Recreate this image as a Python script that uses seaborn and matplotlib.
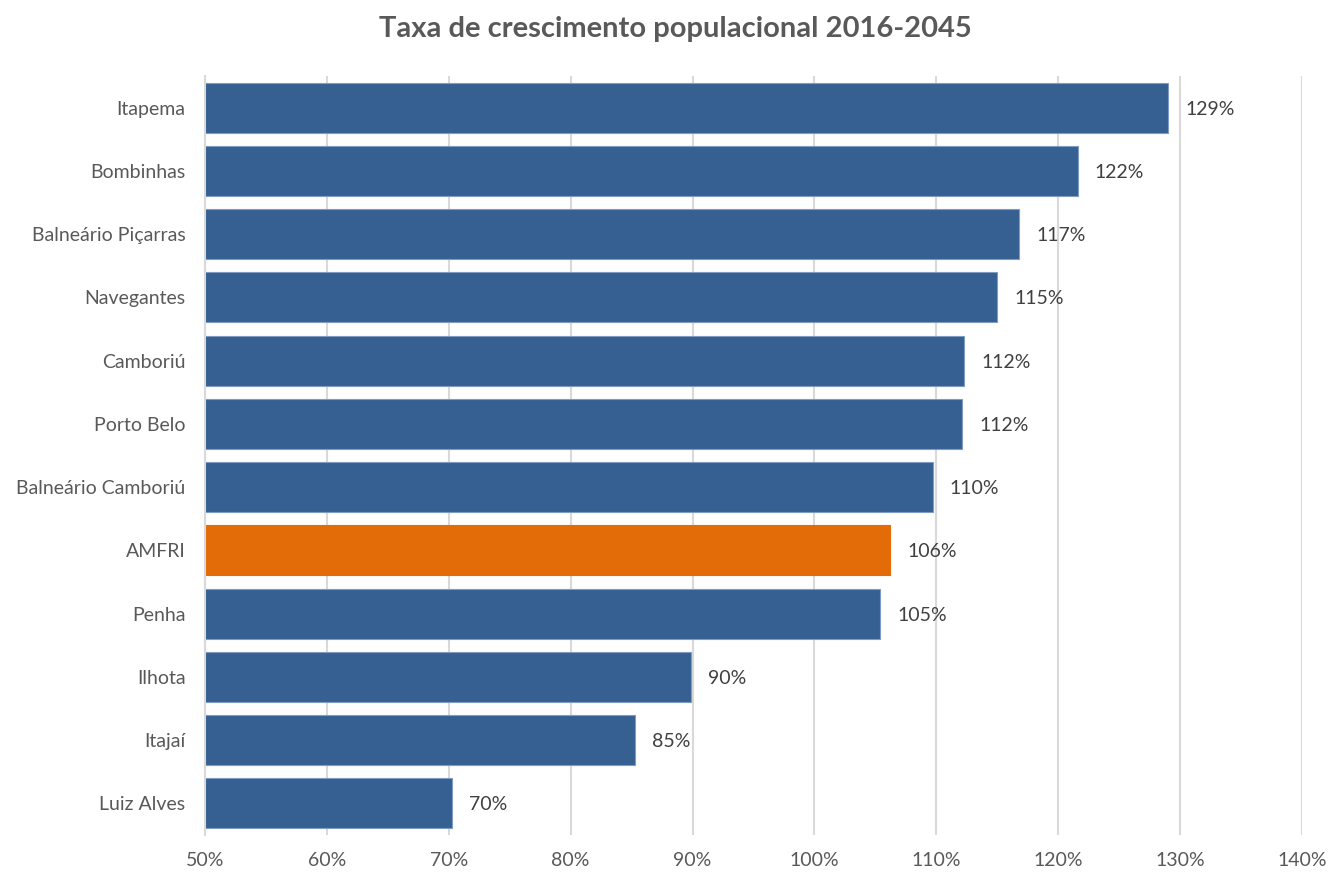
import matplotlib
matplotlib.use("Agg")
import matplotlib.pyplot as plt
import seaborn as sns
import pandas as pd

municipios = ["Itapema", "Bombinhas", "Balneário Piçarras", "Navegantes", "Camboriú",
              "Porto Belo", "Balneário Camboriú", "AMFRI", "Penha", "Ilhota", "Itajaí",
              "Luiz Alves"]
taxas = [129.0, 121.6, 116.8, 115.0, 112.3, 112.1, 109.7, 106.2, 105.4, 89.9, 85.3, 70.3]
destaque = "AMFRI"
x_ticks = [50, 60, 70, 80, 90, 100, 110, 120, 130, 140]

AZUL = "#366092"
LARANJA = "#E36C09"
CINZA_TEXTO = "#595959"
CINZA_GRADE = "#D9D9D9"

sns.set_theme(style="white")
plt.rcParams["font.family"] = ["Lato", "DejaVu Sans"]

df = pd.DataFrame({"municipio": municipios, "taxa": taxas})
cores = {m: (LARANJA if m == destaque else AZUL) for m in municipios}

fig = plt.figure(figsize=(13.3, 8.73), dpi=100)
ax = fig.add_axes([205 / 1330, 1 - 835 / 873, (1302 - 205) / 1330, (835 - 76) / 873])

sns.barplot(data=df, x="taxa", y="municipio", hue="municipio", palette=cores,
            order=municipios, width=0.79, saturation=1, legend=False, ax=ax,
            edgecolor="#7E9CC0", linewidth=0.8)
for patch, m in zip(ax.patches, municipios):
    if m == destaque:
        patch.set_edgecolor(LARANJA)

ax.set_xlim(50, 140)
ax.set_xticks(x_ticks)
ax.set_xticklabels([f"{t}%" for t in x_ticks])
ax.set_xlabel("")
ax.set_ylabel("")
ax.set_axisbelow(True)
ax.xaxis.grid(True, color=CINZA_GRADE, linewidth=1.5)
ax.yaxis.grid(False)
for s in ["top", "right", "bottom"]:
    ax.spines[s].set_visible(False)
ax.spines["left"].set_color(CINZA_GRADE)
ax.spines["left"].set_linewidth(1.5)
ax.tick_params(axis="both", length=0, labelsize=14, colors=CINZA_TEXTO)
ax.tick_params(axis="y", pad=14)
ax.tick_params(axis="x", pad=12)

# value labels to the right of each bar
for i, v in enumerate(taxas):
    ax.text(v + 1.4, i, f"{v:.0f}%", va="center_baseline", ha="left", fontsize=14,
            color="#404040")

fig.text(0.508, 0.967, "Taxa de crescimento populacional 2016-2045", ha="center",
         va="center", fontsize=21, fontweight="bold", color=CINZA_TEXTO)

fig.savefig("out.png", dpi=100, facecolor="white")
